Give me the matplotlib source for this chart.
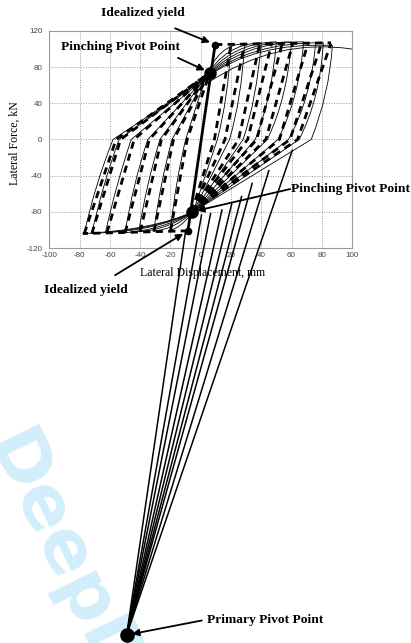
import matplotlib
matplotlib.use("Agg")
import matplotlib.pyplot as plt
from matplotlib.path import Path
from matplotlib.patches import PathPatch

plt.rcParams["axes.unicode_minus"] = False

# ---------------- data: displacement (mm) / lateral force (kN) ----------------
x_ticks = [-100, -80, -60, -40, -20, 0, 20, 40, 60, 80, 100]
y_ticks = [-120, -80, -40, 0, 40, 80, 120]

primary_pivot = (-49, -548)
pinch_pos = (6, 74)
pinch_neg = (-6, -80)
yield_pos = (9.5, 105)
yield_neg = (-8.5, -101)

# pivot model (thick dashed) - positive cycles
mod_pos_peak_x = [20, 29, 39, 47, 54, 61, 71, 80, 86]
mod_pos_peak_f = [105, 106, 106, 107, 107, 107, 107, 107, 106]
mod_pos_zero_x = [9, 16, 25, 31, 37, 43, 52, 59, 64]
# pivot model - negative cycles
mod_neg_peak_x = [-20, -31, -40, -50, -62, -72, -77]
mod_neg_peak_f = [-101, -102, -102, -103, -103, -104, -104]
mod_neg_zero_x = [-9, -18, -26, -34, -44, -53, -56]
# model backbones after yield
mod_top_x = [9.5, 86]
mod_top_f = [105, 107]
mod_bot_x = [-8.5, -78]
mod_bot_f = [-101, -104]

# test record (thin solid) - positive unloading branches
exp_pos_peak_x = [20, 29, 40, 50, 60, 68, 76, 81, 87]
exp_pos_peak_f = [104, 106, 107, 108, 108, 108, 108, 107, 104]
exp_pos_bend_x = [18, 27, 37, 47, 57, 65, 73, 79, 85]
exp_pos_bend_f = [45, 45, 45, 45, 45, 45, 45, 45, 50]
exp_pos_zero_x = [11, 19, 28, 36, 44, 51, 58, 65, 73]
exp_pinch_neg = (-5, -80)

# test record - negative unloading and reloading to the positive side
exp_neg_peak_x = [-20, -31, -41, -50, -63, -72, -77]
exp_neg_peak_f = [-100, -101, -102, -103, -103, -104, -104]
exp_neg_bend_x = [-17, -27, -36, -45, -56, -65, -70]
exp_neg_bend_f = [-50, -50, -50, -50, -50, -50, -50]
exp_neg_zero_x = [-10, -19, -27, -35, -46, -54, -58]
exp_pinch_pos = (3, 68)
exp_reload_ctl_x = [12, 16, 20, 24, 28, 32, 36]
exp_reload_ctl_f = [106, 106, 107, 108, 108, 108, 108]
exp_reload_end_x = [29, 40, 50, 60, 68, 81, 87]
exp_reload_end_f = [106, 107, 108, 108, 108, 107, 104]

# test record - negative reloading along the bottom
exp_bot_ctl_x = [-14, -18, -22, -25, -28, -30, -32]
exp_bot_ctl_f = [-99, -100, -100, -100, -100, -100, -100]

# envelope of the test record
env_x = [4, 50, 100]
env_f = [62, 113, 100]

# rays from the primary pivot point (upper ends)
ray_end_x = [-10, 0.5, 6.5, 14, 20.5, 27, 34, 45, 60.5]
ray_end_f = [-101, -83.5, -82, -78, -71, -63, -48.5, -34.5, -12]

SERIF = "Liberation Serif"
SANS = "Liberation Sans"

fig = plt.figure(figsize=(4.11, 6.43), dpi=100)
ax = fig.add_axes([0.1204, 0.6143, 0.7361, 0.3375])
ax.set_xlim(-100, 100)
ax.set_ylim(-120, 120)
ax.set_xticks(x_ticks)
ax.set_yticks(y_ticks)
ax.tick_params(length=0, labelsize=5.8, colors="#444444", pad=3)
ax.tick_params(axis="y", pad=5)
for lab in ax.get_xticklabels() + ax.get_yticklabels():
    lab.set_fontfamily(SANS)
for sp in ax.spines.values():
    sp.set_color("#999999")
    sp.set_linewidth(0.8)
for xv in x_ticks[1:-1]:
    ax.axvline(xv, color="#999999", lw=0.7, ls=(0, (1, 1.5)), zorder=0)
for yv in y_ticks[1:-1]:
    ax.axhline(yv, color="#999999", lw=0.7, ls=(0, (1, 1.5)), zorder=0)

# watermark, kept underneath the axes
fig.text(-0.036, 0.308, "DeepDyve", rotation=-64, rotation_mode="anchor",
         ha="left", va="baseline", fontsize=52, fontweight="bold",
         family="DejaVu Sans", color="#d3eefb", zorder=-1)

thin = dict(fc="none", ec="black", lw=0.6, zorder=2)
M, C3, L = Path.MOVETO, Path.CURVE3, Path.LINETO

# test record branches
for i in range(len(exp_pos_peak_x)):
    verts = [(exp_pos_peak_x[i], exp_pos_peak_f[i]),
             (exp_pos_bend_x[i], exp_pos_bend_f[i]),
             (exp_pos_zero_x[i], 0), exp_pinch_neg]
    ax.add_patch(PathPatch(Path(verts, [M, C3, C3, L]), **thin))

for i in range(len(exp_neg_peak_x)):
    verts = [(exp_neg_peak_x[i], exp_neg_peak_f[i]),
             (exp_neg_bend_x[i], exp_neg_bend_f[i]),
             (exp_neg_zero_x[i], 0), exp_pinch_pos,
             (exp_reload_ctl_x[i], exp_reload_ctl_f[i]),
             (exp_reload_end_x[i], exp_reload_end_f[i])]
    ax.add_patch(PathPatch(Path(verts, [M, C3, C3, L, C3, C3]), **thin))
    verts = [exp_pinch_neg, (exp_bot_ctl_x[i], exp_bot_ctl_f[i]),
             (exp_neg_peak_x[i], exp_neg_peak_f[i])]
    ax.add_patch(PathPatch(Path(verts, [M, C3, C3]), **thin))

ax.add_patch(PathPatch(Path(list(zip(env_x, env_f)), [M, C3, C3]), **thin))

# pivot model
dash = dict(color="black", lw=2.0, dashes=(2.6, 1.9), zorder=3)
for i in range(len(mod_pos_peak_x)):
    ax.plot([pinch_neg[0], mod_pos_zero_x[i], mod_pos_peak_x[i]],
            [pinch_neg[1], 0, mod_pos_peak_f[i]], **dash)
for i in range(len(mod_neg_peak_x)):
    ax.plot([mod_neg_peak_x[i], mod_neg_zero_x[i], pinch_pos[0]],
            [mod_neg_peak_f[i], 0, pinch_pos[1]], **dash)
ax.plot(mod_top_x, mod_top_f, **dash)
ax.plot(mod_bot_x, mod_bot_f, **dash)
ax.plot([yield_neg[0], yield_pos[0]], [yield_neg[1], yield_pos[1]],
        color="black", lw=2.0, zorder=3)

# rays to the primary pivot point
for xe, fe in zip(ray_end_x, ray_end_f):
    ax.plot([primary_pivot[0], xe], [primary_pivot[1], fe],
            color="black", lw=1.1, clip_on=False, zorder=4)

# points
ax.plot(*yield_pos, "o", color="black", ms=4.5, zorder=5)
ax.plot(*yield_neg, "o", color="black", ms=4.5, zorder=5)
ax.plot(*pinch_pos, "o", color="black", ms=8, zorder=5)
ax.plot(*pinch_neg, "o", color="black", ms=8, zorder=5)
ax.plot(*primary_pivot, "o", color="black", ms=9.5, clip_on=False, zorder=5)

# axis titles
fig.text(0.036, 0.778, "Lateral Force, kN", rotation=90, ha="center", va="center",
         family=SERIF, fontsize=8.5)
fig.text(0.494, 0.575, "Lateral Displacement, mm", ha="center", va="center",
         family=SERIF, fontsize=8.5)

# labelled points
notes = [("Idealized yield", (0.348, 0.980), (0.426, 0.956), yield_pos),
         ("Pinching Pivot Point", (0.292, 0.927), (0.433, 0.910), pinch_pos),
         ("Pinching Pivot Point", (0.854, 0.706), (0.706, 0.706), pinch_neg),
         ("Idealized yield", (0.209, 0.549), (0.280, 0.572), yield_neg),
         ("Primary Pivot Point", (0.646, 0.036), (0.491, 0.035), primary_pivot)]
for text, tpos, tail, head in notes:
    fig.text(tpos[0], tpos[1], text, ha="center", va="center", family=SERIF,
             fontsize=9.7, fontweight="bold")
    ax.annotate("", xy=head, xycoords="data", xytext=tail,
                textcoords="figure fraction", annotation_clip=False,
                arrowprops=dict(arrowstyle="-|>", color="black", lw=1.3,
                                mutation_scale=10, shrinkA=0, shrinkB=4))

fig.savefig("out.png", dpi=100)
